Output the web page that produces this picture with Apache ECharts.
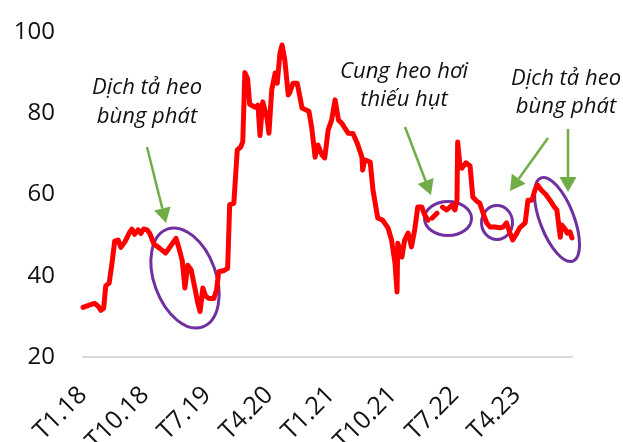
<!DOCTYPE html>
<html>
<head>
<meta charset="utf-8">
<script src="https://cdn.jsdelivr.net/npm/echarts@6/dist/echarts.min.js"></script>
<style>
  html, body { margin: 0; padding: 0; background: #fff; }
  #chart { width: 623px; height: 442px; }
</style>
</head>
<body>
<div id="chart"></div>
<script>
// Giá heo hơi (nghìn đồng/kg), tính theo số tháng kể từ T1.18
const months = [
  0.0, 0.6, 1.3, 1.7, 2.2, 2.6, 3.0, 3.3, 3.8, 4.2, 4.6, 5.1, 5.5, 6.1, 6.7, 7.1, 7.5, 8.0, 8.4, 8.8,
  9.3, 9.7, 10.3, 11.1, 12.0, 12.8, 13.5, 13.9, 14.4, 14.8, 15.2, 15.7, 16.3, 16.7, 17.0, 17.4, 17.8, 18.3, 19.0, 19.4,
  19.7, 20.5, 21.0, 21.3, 21.9, 22.4, 22.9, 23.2, 23.5, 23.9, 24.2, 25.0, 25.4, 25.7, 26.1, 26.7, 27.0, 27.4, 27.9, 28.2,
  28.6, 28.9, 29.3, 29.8, 30.0, 30.5, 31.1, 31.5, 31.8, 32.4, 32.8, 33.2, 33.7, 34.1, 34.7, 35.1, 35.6, 36.1, 36.6, 37.1,
  37.6, 38.0, 38.5, 39.2, 39.8, 40.5, 40.6, 40.9, 41.7, 42.1, 42.8, 43.5, 44.3, 44.8, 45.3, 45.6, 45.7, 46.3, 46.7, 47.2,
  47.7, 48.2, 48.6, 49.2, 49.6, 50.1, 50.4, 50.7, 51.4, 51.8, 52.2, 52.8, 53.6, 54.0, 54.3, 54.4, 54.7, 55.0, 55.6, 56.2,
  56.6, 57.2, 57.6, 58.1, 58.6, 59.1, 59.8, 60.5, 61.0, 61.5, 62.0, 62.4, 63.0, 63.4, 64.2, 64.6, 65.2, 65.6, 66.0, 66.6,
  67.2, 67.8, 68.4, 68.8, 69.3, 69.5, 70.0, 70.3, 70.7, 71.0
];
const prices = [
  32.2, 32.6, 33.0, 33.2, 32.5, 31.5, 32.0, 37.5, 38.2, 43.0, 48.5, 48.8, 47.0, 48.4, 50.5, 51.5, 50.2, 51.3, 50.4, 51.5,
  51.3, 50.4, 47.8, 46.8, 45.6, 47.5, 49.2, 47.0, 43.8, 37.0, 42.6, 41.5, 36.5, 33.0, 31.2, 37.0, 35.0, 34.4, 34.4, 36.5,
  41.0, 41.3, 41.8, 57.5, 57.8, 71.0, 71.7, 73.0, 90.0, 88.5, 82.2, 81.5, 82.0, 74.5, 82.8, 79.0, 75.1, 85.7, 89.9, 87.4,
  94.8, 96.8, 93.1, 84.5, 85.0, 87.4, 87.4, 84.0, 81.3, 80.8, 80.5, 76.6, 69.2, 72.2, 69.7, 69.0, 75.9, 78.3, 83.3, 78.3,
  77.5, 76.4, 75.1, 75.0, 72.7, 69.2, 66.0, 68.5, 68.0, 61.1, 54.2, 53.7, 51.7, 48.8, 43.1, 36.0, 48.0, 44.6, 48.8, 50.5,
  47.1, 51.7, 56.9, 56.9, 55.0, 53.7, null, 54.2, 55.4, null, 56.9, 56.2, 57.4, 56.2, 58.6, 72.9, 67.7, 66.5, 67.8, 67.0,
  59.4, 58.3, 57.9, 55.4, 53.0, 52.0, 52.0, 51.8, 52.0, 53.0, 50.5, 48.8, 50.5, 51.8, 53.0, 58.6, 58.6, 61.0, 62.3, 61.0,
  60.0, 58.6, 57.0, 56.2, 49.5, 52.5, 51.5, 50.5, 50.8, 49.3
];
const tickLabels = ['T1.18', 'T10.18', 'T7.19', 'T4.20', 'T1.21', 'T10.21', 'T7.22', 'T4.23'];
const yTicks = [20, 40, 60, 80, 100];

const seriesData = months.map((m, i) => [m, prices[i] === null ? '-' : prices[i]]);

const FONT = '"Open Sans", "Noto Sans", sans-serif';
const GREEN = '#70ad47';
const PURPLE = '#7030a0';

// arrow = shaft line + triangular head
function arrow(x1, y1, x2, y2) {
  const a = Math.atan2(y2 - y1, x2 - x1);
  const len = 15, half = 8.5;
  const bx = x2 - len * Math.cos(a), by = y2 - len * Math.sin(a);
  const nx = -Math.sin(a), ny = Math.cos(a);
  return [
    { type: 'line', shape: { x1: x1, y1: y1, x2: bx, y2: by },
      style: { stroke: GREEN, lineWidth: 2.5 } },
    { type: 'polygon', shape: { points: [[x2, y2], [bx + nx * half, by + ny * half], [bx - nx * half, by - ny * half]] },
      style: { fill: GREEN } }
  ];
}
function ring(cx, cy, rx, ry, deg) {
  return { type: 'ellipse', x: cx, y: cy, rotation: deg * Math.PI / 180,
    shape: { cx: 0, cy: 0, rx: rx, ry: ry },
    style: { fill: 'none', stroke: PURPLE, lineWidth: 3 } };
}
function note(cx, cy, str) {
  return { type: 'text', x: cx, y: cy,
    style: { text: str, fill: '#111', font: 'italic 22px ' + FONT, textAlign: 'center', textVerticalAlign: 'middle' } };
}

const chart = echarts.init(document.getElementById('chart'));
chart.setOption({
  animation: false,
  backgroundColor: '#fff',
  grid: { left: 83, right: 51, top: 32, bottom: 85, containLabel: false, outerBoundsMode: 'none' },
  xAxis: {
    type: 'value', min: 0, max: 71, interval: 9,
    axisLine: { show: true, lineStyle: { color: '#d9d9d9', width: 2 } },
    axisTick: { show: false },
    splitLine: { show: false },
    axisLabel: {
      rotate: 45, margin: 34, fontSize: 25, fontFamily: FONT, color: '#111',
      showMaxLabel: false,
      formatter: v => (Number.isInteger(v / 9) && tickLabels[v / 9]) || ''
    }
  },
  yAxis: {
    type: 'value', min: yTicks[0], max: yTicks[yTicks.length - 1], interval: 20,
    axisLine: { show: false }, axisTick: { show: false }, splitLine: { show: false },
    axisLabel: { margin: 28, fontSize: 24, fontFamily: FONT, color: '#111' }
  },
  series: [{
    type: 'line', data: seriesData, symbol: 'none', connectNulls: false,
    lineStyle: { color: '#ff0000', width: 5, join: 'round', cap: 'round' }
  }],
  graphic: [].concat(
    ring(185, 278, 31, 52, 20),
    ring(448, 218.5, 23.5, 17, 0),
    ring(497, 222.5, 15.5, 17, 0),
    ring(557, 219.5, 17, 44.5, 21),
    arrow(147, 147, 166, 223),
    arrow(405, 127, 431, 195),
    arrow(548, 138, 510, 191),
    arrow(568, 129, 568, 192),
    note(147, 88, 'Dịch tả heo'),
    note(147, 117, 'bùng phát'),
    note(404, 72, 'Cung heo hơi'),
    note(404, 100, 'thiếu hụt'),
    note(566, 79, 'Dịch tả heo'),
    note(566, 107, 'bùng phát')
  )
});
</script>
</body>
</html>
